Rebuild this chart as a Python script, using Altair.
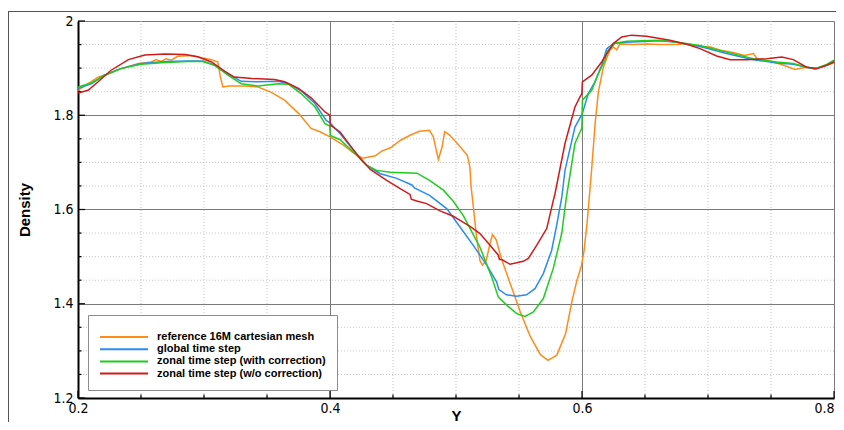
import altair as alt
import pandas as pd

# ---- data ----
series_names = [
    "reference 16M cartesian mesh",
    "global time step",
    "zonal time step (with correction)",
    "zonal time step (w/o correction)",
]
series_colors = ["#FF8C1A", "#2A8CF0", "#1FCC1F", "#D11A1A"]

ref_x = [0.200, 0.208, 0.216, 0.224, 0.234, 0.248, 0.258, 0.262, 0.266, 0.270, 0.274, 0.279, 0.290,
         0.298, 0.306, 0.311, 0.313, 0.315, 0.320, 0.332, 0.343, 0.353, 0.364, 0.375, 0.385, 0.392,
         0.400, 0.411, 0.419, 0.426, 0.436, 0.441, 0.448, 0.456, 0.464, 0.471, 0.479, 0.482, 0.486,
         0.489, 0.491, 0.495, 0.501, 0.509, 0.511, 0.512, 0.514, 0.516, 0.519, 0.521, 0.524, 0.527,
         0.529, 0.532, 0.536, 0.543, 0.551, 0.559, 0.567, 0.573, 0.580, 0.587, 0.592, 0.596, 0.5995,
         0.6015, 0.604, 0.6075, 0.6105, 0.613, 0.617, 0.622, 0.625, 0.6275, 0.630, 0.641, 0.651,
         0.662, 0.675, 0.683, 0.694, 0.702, 0.710, 0.720, 0.729, 0.736, 0.739, 0.744, 0.752, 0.760,
         0.769, 0.778, 0.786, 0.794, 0.800]
ref_y = [1.853, 1.867, 1.881, 1.888, 1.899, 1.910, 1.913, 1.918, 1.914, 1.920, 1.917, 1.925, 1.927,
         1.922, 1.918, 1.913, 1.881, 1.860, 1.862, 1.862, 1.860, 1.849, 1.832, 1.804, 1.772, 1.765,
         1.754, 1.736, 1.719, 1.709, 1.714, 1.724, 1.731, 1.747, 1.758, 1.766, 1.768, 1.754, 1.706,
         1.733, 1.765, 1.758, 1.740, 1.715, 1.690, 1.648, 1.600, 1.549, 1.492, 1.482, 1.492, 1.528,
         1.547, 1.535, 1.496, 1.443, 1.383, 1.330, 1.292, 1.280, 1.291, 1.337, 1.405, 1.450, 1.480,
         1.510, 1.570, 1.680, 1.785, 1.850, 1.902, 1.938, 1.945, 1.939, 1.951, 1.950, 1.951,
         1.950, 1.950, 1.952, 1.946, 1.945, 1.938, 1.933, 1.927, 1.931, 1.920, 1.917, 1.913, 1.906,
         1.897, 1.902, 1.899, 1.906, 1.911]

glob_x = [0.200, 0.211, 0.221, 0.234, 0.250, 0.269, 0.287, 0.299, 0.3085, 0.319, 0.3296, 0.343,
          0.359, 0.367, 0.377, 0.388, 0.397, 0.400, 0.408, 0.4185, 0.429, 0.440, 0.453, 0.465,
          0.467, 0.479, 0.4926, 0.5032, 0.5137, 0.5244, 0.5323, 0.534, 0.540, 0.548, 0.556,
          0.5627, 0.5693, 0.5759, 0.580, 0.5839, 0.5865, 0.5944, 0.6002, 0.605, 0.6103, 0.6156,
          0.6196, 0.6248, 0.6354, 0.6619, 0.6752, 0.6937, 0.7148, 0.736, 0.7545, 0.7677, 0.7783,
          0.785, 0.7942, 0.800]
glob_y = [1.857, 1.867, 1.885, 1.899, 1.910, 1.914, 1.915, 1.915, 1.906, 1.888, 1.872, 1.871,
          1.872, 1.867, 1.852, 1.825, 1.789, 1.784, 1.761, 1.726, 1.694, 1.676, 1.666, 1.652,
          1.646, 1.630, 1.602, 1.563, 1.524, 1.482, 1.446, 1.430, 1.419, 1.416, 1.419,
          1.432, 1.464, 1.513, 1.568, 1.625, 1.683, 1.775, 1.8035, 1.846, 1.871, 1.906,
          1.941, 1.952, 1.955, 1.958, 1.955, 1.946, 1.931, 1.918, 1.911, 1.908, 1.902,
          1.8975, 1.906, 1.915]

corr_x = [0.200, 0.211, 0.221, 0.234, 0.250, 0.269, 0.287, 0.299, 0.3085, 0.319, 0.3296, 0.343,
          0.359, 0.367, 0.377, 0.388, 0.396, 0.3998, 0.4002, 0.408, 0.4185, 0.429, 0.437, 0.448,
          0.469, 0.479, 0.490, 0.498, 0.5058, 0.5111, 0.519, 0.5283, 0.5336, 0.5402, 0.5482,
          0.5548, 0.5614, 0.5693, 0.5772, 0.5839, 0.5873, 0.5944, 0.5984, 0.5999, 0.6003, 0.6077,
          0.6129, 0.6183, 0.6196, 0.6262, 0.6354, 0.6619, 0.6752, 0.6937, 0.7148, 0.736, 0.7545,
          0.7677, 0.7783, 0.785, 0.7942, 0.800]
corr_y = [1.860, 1.869, 1.885, 1.899, 1.908, 1.912, 1.914, 1.914, 1.906, 1.885, 1.867, 1.862,
          1.867, 1.866, 1.846, 1.818, 1.782, 1.777, 1.757, 1.748, 1.722, 1.694, 1.683, 1.679,
          1.677, 1.662, 1.641, 1.617, 1.587, 1.560, 1.520, 1.457, 1.414, 1.397, 1.379,
          1.373, 1.3825, 1.411, 1.475, 1.549, 1.620, 1.740, 1.7645, 1.772, 1.832, 1.853,
          1.888, 1.917, 1.934, 1.953, 1.957, 1.959, 1.955, 1.948, 1.934, 1.920, 1.913,
          1.910, 1.902, 1.899, 1.908, 1.917]

nocorr_x = [0.200, 0.208, 0.216, 0.226, 0.240, 0.253, 0.269, 0.285, 0.295, 0.306, 0.316, 0.324,
            0.338, 0.356, 0.364, 0.375, 0.385, 0.396, 0.3998, 0.4002, 0.408, 0.416, 0.424, 0.432,
            0.445, 0.456, 0.4635, 0.4645, 0.4688, 0.4767, 0.4873, 0.4979, 0.5006, 0.5111, 0.519,
            0.527, 0.5336, 0.5345, 0.5363, 0.5429, 0.5534, 0.5574, 0.564, 0.572, 0.5772, 0.5786,
            0.5865, 0.5944, 0.5984, 0.5999, 0.6003, 0.6077, 0.6156, 0.6248, 0.6315, 0.6394,
            0.6513, 0.6698, 0.6831, 0.6937, 0.7069, 0.7175, 0.7307, 0.7466, 0.7585, 0.7677,
            0.7783, 0.7863, 0.7942, 0.800]
nocorr_y = [1.847, 1.853, 1.871, 1.895, 1.918, 1.928, 1.930, 1.929, 1.924, 1.913, 1.894, 1.881,
            1.878, 1.876, 1.871, 1.857, 1.837, 1.807, 1.800, 1.779, 1.7645, 1.736, 1.708, 1.685,
            1.662, 1.644, 1.632, 1.622, 1.618, 1.6125, 1.597, 1.5856, 1.581, 1.5644, 1.549,
            1.524, 1.503, 1.494, 1.4937, 1.4837, 1.490, 1.496, 1.524, 1.5595, 1.619, 1.634,
            1.740, 1.8175, 1.839, 1.846, 1.8706, 1.885, 1.913, 1.952, 1.966, 1.970,
            1.9675, 1.959, 1.9506, 1.9414, 1.9257, 1.918, 1.918, 1.920, 1.9236, 1.918,
            1.902, 1.899, 1.906, 1.913]

x_major = [0.2, 0.4, 0.6, 0.8]
x_minor = [0.25, 0.3, 0.35, 0.45, 0.5, 0.55, 0.65, 0.7, 0.75]
y_major = [1.2, 1.4, 1.6, 1.8, 2.0]
y_minor = [1.25, 1.3, 1.35, 1.45, 1.5, 1.55, 1.65, 1.7, 1.75, 1.85, 1.9, 1.95]

# ---- tables ----
rows = []
for name, xs_, ys_ in zip(series_names,
                          [ref_x, glob_x, corr_x, nocorr_x],
                          [ref_y, glob_y, corr_y, nocorr_y]):
    for i, (a, b) in enumerate(zip(xs_, ys_)):
        rows.append({"series": name, "order": i, "Y": a, "Density": b})
df = pd.DataFrame(rows)
xminor_df = pd.DataFrame({"Y": x_minor})
yminor_df = pd.DataFrame({"Density": y_minor})
xmajor_df = pd.DataFrame({"Y": x_major})
ymajor_df = pd.DataFrame({"Density": y_major})

W, H = 756, 377
FONT = "Liberation Sans Narrow, DejaVu Sans Condensed, Arial Narrow, sans-serif"
BFONT = "Liberation Sans, Arial, Helvetica, sans-serif"

xs = alt.Scale(domain=[0.2, 0.8], nice=False, zero=False)
ys = alt.Scale(domain=[1.2, 2.0], nice=False, zero=False)

xaxis = alt.Axis(values=x_major, format="~g", grid=True, gridColor="#7a7a7a", gridWidth=1,
                 ticks=False, domainColor="black", domainWidth=2, labelFont=FONT,
                 labelFontSize=14, labelColor="black", labelPadding=3, labelFlush=False,
                 labelAlign=alt.ConditionalAxisLabelAlign(
                     condition={"test": "datum.value >= 0.79", "value": "right"},
                     value="center"),
                 titleFont=BFONT, titleFontSize=15, titleFontWeight="bold",
                 titleColor="black", titleY=22, titleBaseline="alphabetic")
yaxis = alt.Axis(values=y_major, format="~g", grid=True, gridColor="#7a7a7a", gridWidth=1,
                 ticks=False, domainColor="black", domainWidth=2, labelFont=FONT,
                 labelFontSize=14, labelColor="black", labelPadding=5, labelFlush=False,
                 titleFont=BFONT, titleFontSize=15, titleFontWeight="bold",
                 titleColor="black", titlePadding=20)


def X():
    return alt.X("Y:Q", scale=xs, axis=xaxis, title="Y")


def Yc():
    return alt.Y("Density:Q", scale=ys, axis=yaxis, title="Density")


vminor = alt.Chart(xminor_df).mark_rule(color="#c4c4c4", strokeDash=[1, 2], strokeWidth=1).encode(
    x=X())
hminor = alt.Chart(yminor_df).mark_rule(color="#c4c4c4", strokeDash=[1, 2], strokeWidth=1).encode(
    y=Yc())

tick_style = dict(color="black", strokeWidth=1.2)
xt_major = alt.Chart(xmajor_df).mark_rule(**tick_style).encode(
    x=X(), y=alt.value(H), y2=alt.value(H - 7))
xt_minor = alt.Chart(xminor_df).mark_rule(**tick_style).encode(
    x=X(), y=alt.value(H), y2=alt.value(H - 3.5))
yt_major = alt.Chart(ymajor_df).mark_rule(**tick_style).encode(
    y=Yc(), x=alt.value(0), x2=alt.value(7))
yt_minor = alt.Chart(yminor_df).mark_rule(**tick_style).encode(
    y=Yc(), x=alt.value(0), x2=alt.value(3.5))

lines = alt.Chart(df).mark_line(strokeWidth=1.5, clip=True).encode(
    x=X(),
    y=Yc(),
    order="order:Q",
    color=alt.Color(
        "series:N",
        sort=series_names,
        scale=alt.Scale(domain=series_names, range=series_colors),
        legend=alt.Legend(
            title=" ", titleFontSize=2, titlePadding=2,
            orient="none", legendX=10, legendY=294,
            symbolType="M-1,0L7,0", symbolSize=144, symbolStrokeWidth=2,
            labelOffset=44, labelFont=BFONT, labelFontSize=11, labelFontWeight="bold",
            labelColor="black", strokeColor="#8c8c8c", fillColor="white", padding=11,
            rowPadding=0.2, labelLimit=400,
        ),
    ),
)

frame = alt.Chart(xmajor_df).mark_rect(fill="white", fillOpacity=0, stroke="#555555",
                                       strokeWidth=1).encode(
    x=alt.value(-69.5), x2=alt.value(W + 40), y=alt.value(-9.5), y2=alt.value(H + 80))

chart = alt.layer(vminor, hminor, xt_major, xt_minor, yt_major, yt_minor, lines, frame).properties(
    width=W, height=H,
    autosize=alt.AutoSizeParams(type="none"),
    padding={"left": 70, "top": 13, "right": 2, "bottom": 24},
).configure_view(stroke="#8a8a8a", strokeWidth=1).configure(background="white")

chart.save("out.html", embed_options={"renderer": "svg", "actions": False})
